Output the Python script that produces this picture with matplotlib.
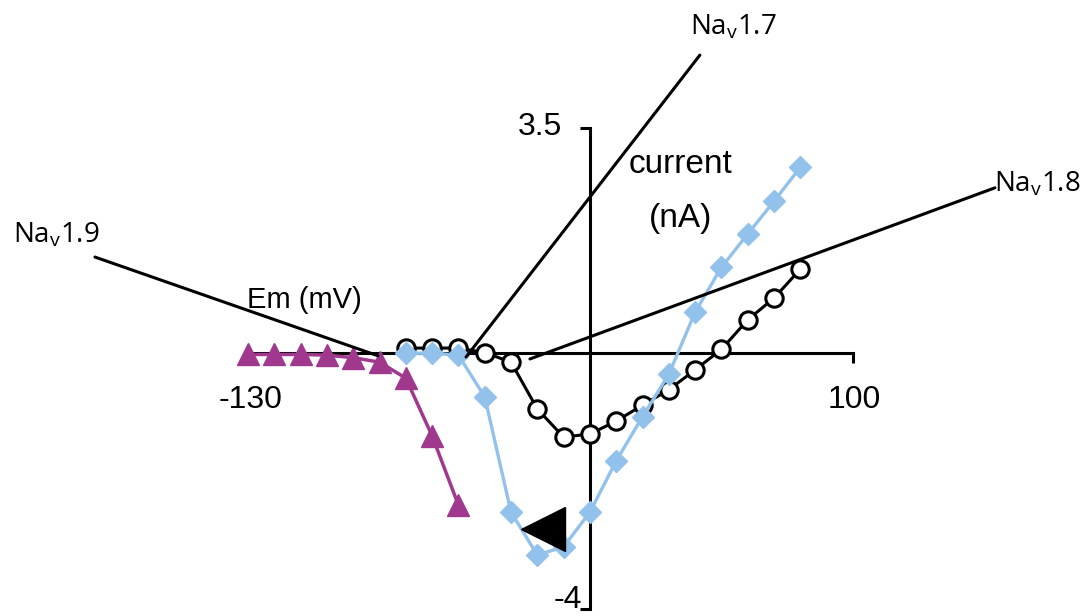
import matplotlib.pyplot as plt

# Voltage steps (mV) and peak currents (nA) for each channel
v_19 = [-130, -120, -110, -100, -90, -80, -70, -60, -50]
i_19 = [-0.03, -0.03, -0.03, -0.04, -0.08, -0.15, -0.40, -1.30, -2.38]

v_17 = [-70, -60, -50, -40, -30, -20, -10, 0, 10, 20, 30, 40, 50, 60, 70, 80]
i_17 = [-0.01, -0.01, -0.04, -0.69, -2.49, -3.16, -3.03, -2.49, -1.69,
        -1.00, -0.34, 0.63, 1.33, 1.85, 2.36, 2.89]

v_18 = [-70, -60, -50, -40, -30, -20, -10, 0, 10, 20, 30, 40, 50, 60, 70, 80]
i_18 = [0.07, 0.07, 0.07, 0.0, -0.15, -0.88, -1.32, -1.27, -1.07, -0.82,
        -0.58, -0.27, 0.05, 0.51, 0.85, 1.30]

# arrowhead pointing at the Nav1.7 peak
arrow_v, arrow_i = -18, -2.75

# label text position, leader start, leader end
labels = ['$\\mathregular{Na_v1.9}$', '$\\mathregular{Na_v1.7}$', '$\\mathregular{Na_v1.8}$']
label_xy = [(-203, 1.83), (54.5, 5.08), (170, 2.63)]
leader_start = [(-188.2, 1.49), (41.8, 4.64), (154.0, 2.57)]
leader_end = [(-80.6, -0.05), (-47.1, -0.07), (-22.8, -0.10)]

purple = '#A0388E'
blue = '#92C1EC'

fig = plt.figure(figsize=(10.87, 6.16), dpi=100)
ax = fig.add_axes([0, 0, 1, 1])
ax.set_xlim(-224.3, 189.0)
ax.set_ylim(-4.11, 5.50)

# axes crossing at the origin
for side in ['top', 'right']:
    ax.spines[side].set_visible(False)
ax.spines['left'].set_position(('data', 0))
ax.spines['bottom'].set_position(('data', 0))
ax.spines['left'].set_bounds(-4, 3.5)
ax.spines['bottom'].set_bounds(-130, 100)
for side in ['left', 'bottom']:
    ax.spines[side].set_linewidth(2.2)
ax.set_xticks([-130, 100])
ax.set_yticks([-4, 3.5])
ax.set_xticklabels([])
ax.set_yticklabels([])
ax.tick_params(direction='out', length=7.5, width=2.2)
ax.patch.set_alpha(0)

ax.plot(v_19, i_19, color=purple, lw=2.5, marker='^', ms=16, zorder=3)
ax.plot(v_18, i_18, color='black', lw=2.2, marker='o', ms=12.5,
        mfc='white', mec='black', mew=2.2, zorder=4)
ax.plot(v_17, i_17, color=blue, lw=2.4, marker='D', ms=11, zorder=5)

ax.plot(arrow_v, arrow_i, marker='<', ms=31, color='black', zorder=6)

for lab, pos, s, e in zip(labels, label_xy, leader_start, leader_end):
    ax.annotate('', xy=e, xytext=s,
                arrowprops=dict(arrowstyle='-', lw=2.2, color='black',
                                shrinkA=0, shrinkB=0), zorder=7)
    ax.text(pos[0], pos[1], lab, family='Open Sans', fontsize=20,
            ha='center', va='center')

font = dict(family='Liberation Sans', ha='center', va='center')
ax.text(-108.4, 0.82, 'Em (mV)', fontsize=21, **font)
ax.text(34.5, 2.93, 'current', fontsize=24, **font)
ax.text(34.5, 2.09, '(nA)', fontsize=24, **font)
ax.text(-19, 3.52, '3.5', fontsize=23, **font)
ax.text(-129, -0.74, '-130', fontsize=23, **font)
ax.text(100.4, -0.74, '100', fontsize=23, **font)
ax.text(-8.4, -4.09, '-4', fontsize=23, family='Liberation Sans',
        ha='center', va='bottom')

fig.savefig('out.png', dpi=100)
